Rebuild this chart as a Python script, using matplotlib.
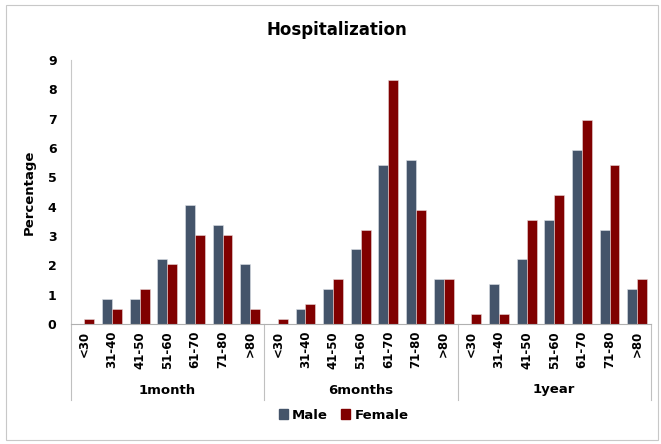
import matplotlib.pyplot as plt
import matplotlib.transforms as mtransforms
from matplotlib.patches import Rectangle, Patch
import numpy as np

plt.rcParams['font.family'] = ['DejaVu Sans']

# data
periods = ['1month', '6months', '1year']
ages = ['<30', '31-40', '41-50', '51-60', '61-70', '71-80', '>80']

male_1m = [0, 0.85, 0.85, 2.2, 4.07, 3.39, 2.03]
female_1m = [0.17, 0.51, 1.19, 2.03, 3.05, 3.05, 0.51]
male_6m = [0, 0.51, 1.19, 2.54, 5.42, 5.59, 1.53]
female_6m = [0.17, 0.68, 1.53, 3.22, 8.31, 3.9, 1.53]
male_1y = [0, 1.36, 2.2, 3.56, 5.93, 3.22, 1.19]
female_1y = [0.34, 0.34, 3.56, 4.41, 6.95, 5.42, 1.53]

male = male_1m + male_6m + male_1y
female = female_1m + female_6m + female_1y
labels = ages * len(periods)

male_color = '#44546a'
female_color = '#800000'

fig = plt.figure(figsize=(6.61, 4.44), dpi=100)
# light frame around the whole chart like Excel
fig.patches.append(Rectangle((6 / 661, 4 / 444), 652 / 661, 435 / 444,
                             transform=fig.transFigure, fill=False,
                             edgecolor='#c8c8c8', linewidth=0.8))

ax = fig.add_axes([70.5 / 661, 120 / 444, 580.5 / 661, 264 / 444])

x = np.arange(len(male))
w = 0.36
ax.bar(x - w / 2, male, w, color=male_color, edgecolor='#dde1e8', linewidth=0.4)
ax.bar(x + w / 2, female, w, color=female_color, edgecolor='#e8d8d8', linewidth=0.4)

ax.set_xlim(-0.5, len(male) - 0.5)
ax.set_ylim(0, 9)
ax.set_yticks(range(10))
ax.tick_params(axis='y', length=0, pad=10, labelsize=9)
for t in ax.get_yticklabels():
    t.set_fontweight('bold')

ax.set_xticks(x)
ax.set_xticklabels(labels, rotation=90, fontsize=8.5, fontweight='bold')
ax.tick_params(axis='x', length=0, pad=5)

for s in ['top', 'right']:
    ax.spines[s].set_visible(False)
ax.spines['left'].set_color('#c8c8c8')
ax.spines['bottom'].set_color('#b0b0b0')

ax.set_ylabel('Percentage', fontsize=9.5, fontweight='bold')
ax.yaxis.set_label_coords(-35 / 580.5, 0.5)

# group separators and group labels below the axis
trans = mtransforms.blended_transform_factory(ax.transData, ax.transAxes)
for b in np.arange(len(periods) + 1) * len(ages) - 0.5:
    ax.plot([b, b], [0, -76 / 264], transform=trans, color='#c0c0c0',
            linewidth=0.8, clip_on=False)
for i, p in enumerate(periods):
    ax.text(i * len(ages) + (len(ages) - 1) / 2, -66 / 264, p, transform=trans,
            ha='center', va='center', fontsize=9.5, fontweight='bold')

fig.text(0.51, 1 - 30 / 444, 'Hospitalization', ha='center', va='center',
         fontsize=12, fontweight='bold')

handles = [Patch(color=male_color, label='Male'), Patch(color=female_color, label='Female')]
leg = fig.legend(handles=handles, loc='center', bbox_to_anchor=(0.52, 1 - 415 / 444),
                 ncol=2, frameon=False, fontsize=9.5, handlelength=0.7,
                 handleheight=0.7, handletextpad=0.3, columnspacing=1.0)
for t in leg.get_texts():
    t.set_fontweight('bold')

fig.savefig('out.png', dpi=100)
